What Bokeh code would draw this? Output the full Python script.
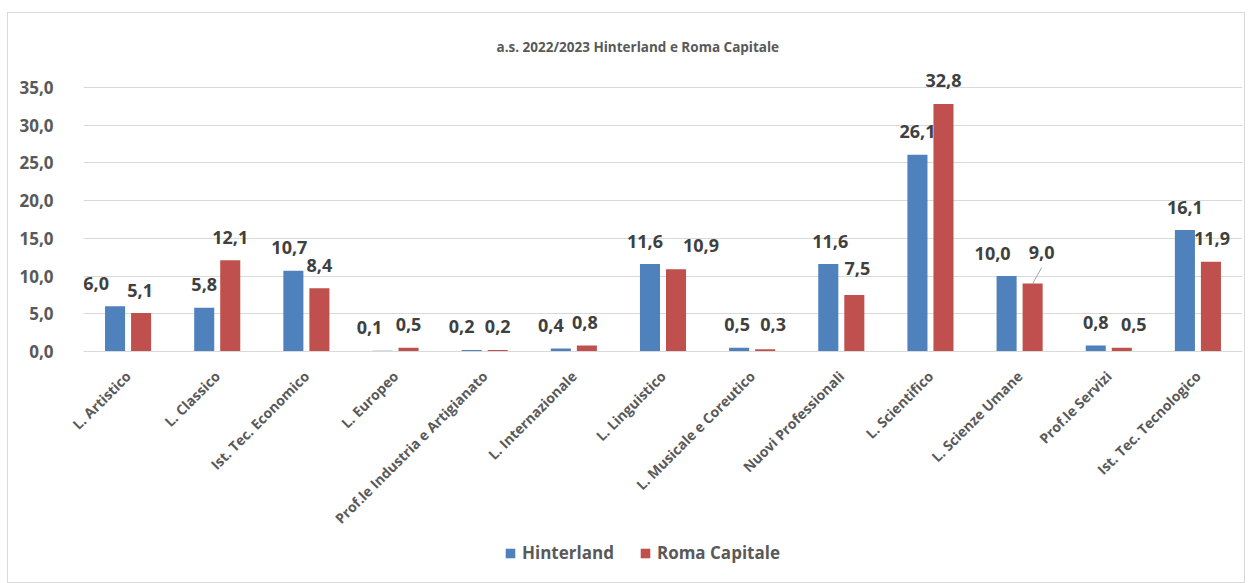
import math
from bokeh.plotting import figure
from bokeh.layouts import column
from bokeh.models import (ColumnDataSource, FactorRange, Range1d, FixedTicker,
                          Legend, LegendItem)
from bokeh.transform import dodge
from bokeh.core.properties import value
from bokeh.embed import file_html
from bokeh.resources import INLINE

# ---------------- data ----------------
categories = ["L. Artistico", "L. Classico", "Ist. Tec. Economico", "L. Europeo",
              "Prof.le Industria e Artigianato", "L. Internazionale", "L. Linguistico",
              "L. Musicale e Coreutico", "Nuovi Professionali", "L. Scientifico",
              "L. Scienze Umane", "Prof.le Servizi", "Ist. Tec. Tecnologico"]
hinterland = [6.0, 5.8, 10.7, 0.1, 0.2, 0.4, 11.6, 0.5, 11.6, 26.1, 10.0, 0.8, 16.1]
roma_capitale = [5.1, 12.1, 8.4, 0.5, 0.2, 0.8, 10.9, 0.3, 7.5, 32.8, 9.0, 0.5, 11.9]
series_names = ["Hinterland", "Roma Capitale"]
y_ticks = [0, 5, 10, 15, 20, 25, 30, 35]
title_text = "a.s. 2022/2023  Hinterland e Roma Capitale"

# label placement (pixels) - styling only
h_dx = [-19, 0, -4, -13, -10, -10, -5, -2, 2, 0, -14, 0, 0]
h_dy = [-23] * 13
r_dx = [-1, 0, 0, 0, 0, -2, 25, 8, 3, 0, 9, 12, 1]
r_dy = [-23, -23, -23, -23, -23, -23, -24, -25, -26, -24, -31, -23, -23]

def fmt(v):
    return f"{v:.1f}".replace(".", ",")

BLUE = "#4F81BD"
RED = "#C0504D"
FONT = "Open Sans"

src = ColumnDataSource(dict(
    cat=categories, h=hinterland, r=roma_capitale,
    hl=[fmt(v) for v in hinterland], rl=[fmt(v) for v in roma_capitale],
    hdx=h_dx, hdy=h_dy, rdx=r_dx, rdy=r_dy,
))

FRAME_H = 291
px_per_unit = 264 / 35.0
p = figure(
    x_range=FactorRange(*categories, range_padding=0),
    y_range=Range1d(0, FRAME_H / px_per_unit),
    width=1236, height=517,
    output_backend="svg", toolbar_location=None,
    min_border_left=75, min_border_right=2, min_border_top=47, min_border_bottom=179,
)
p.frame_width = 1159
p.frame_height = FRAME_H
p.outline_line_color = None
p.background_fill_color = "white"
p.border_fill_color = "white"

p.title.text = title_text
p.title.text_font = FONT
p.title.text_font_size = "13.5px"
p.title.text_font_style = "bold"
p.title.text_color = "#595959"
p.title.align = "left"
p.title.offset = 413

off = 0.146
bw = 0.225
p.vbar(x=dodge("cat", -off, range=p.x_range), top="h", width=bw, source=src,
       fill_color=BLUE, line_color=None)
p.vbar(x=dodge("cat", off, range=p.x_range), top="r", width=bw, source=src,
       fill_color=RED, line_color=None)

p.text(x=dodge("cat", -off, range=p.x_range), y="h", text="hl", source=src,
       x_offset="hdx", y_offset="hdy", text_align="center", text_baseline="middle",
       text_font=value(FONT), text_font_size="18px", text_font_style="bold",
       text_color="#404040")
p.text(x=dodge("cat", off, range=p.x_range), y="r", text="rl", source=src,
       x_offset="rdx", y_offset="rdy", text_align="center", text_baseline="middle",
       text_font=value(FONT), text_font_size="18px", text_font_style="bold",
       text_color="#404040")

# leader line for the "L. Scienze Umane" Roma label
i = categories.index("L. Scienze Umane")
lead = ColumnDataSource(dict(cat=[categories[i]], y0=[roma_capitale[i]],
                             y1=[roma_capitale[i] + 16 / px_per_unit]))
p.segment(x0=dodge("cat", off, range=p.x_range), y0="y0",
          x1=dodge("cat", off + 9 / 89.15, range=p.x_range), y1="y1",
          source=lead, line_color="#a6a6a6", line_width=1)

# axes
p.yaxis.ticker = FixedTicker(ticks=y_ticks)
p.yaxis.major_label_overrides = {t: fmt(t) for t in y_ticks}
p.yaxis.axis_line_color = None
p.yaxis.major_tick_line_color = None
p.yaxis.minor_tick_line_color = None
p.yaxis.major_label_standoff = 24
p.yaxis.major_label_text_font = FONT
p.yaxis.major_label_text_font_size = "17px"
p.yaxis.major_label_text_font_style = "bold"
p.yaxis.major_label_text_color = "#595959"

p.xaxis.axis_line_color = "#d9d9d9"
p.xaxis.axis_line_width = 1
p.xaxis.major_tick_line_color = None
p.xaxis.minor_tick_line_color = None
p.xaxis.major_label_orientation = math.pi / 4
p.xaxis.major_label_standoff = 16
p.xaxis.major_label_text_font = FONT
p.xaxis.major_label_text_font_size = "14px"
p.xaxis.major_label_text_font_style = "bold"
p.xaxis.major_label_text_color = "#595959"

p.xgrid.grid_line_color = None
p.ygrid.ticker = FixedTicker(ticks=y_ticks)
p.ygrid.grid_line_color = "#d9d9d9"
p.ygrid.grid_line_width = 1

# ---- legend strip (zero-height proxy glyphs, only the legend swatches show) ----
lg = figure(width=1236, height=45, x_range=Range1d(0, 1), y_range=Range1d(0, 1),
            output_backend="svg", toolbar_location=None, min_border=0)
lg.axis.visible = False
lg.grid.visible = False
lg.outline_line_color = None
lg.border_fill_color = "white"
proxy = ColumnDataSource(dict(x=[0.5], top=[0.0]))
sw_h = lg.vbar(x="x", top="top", width=0.0, source=proxy, fill_color=BLUE, line_color=None)
sw_r = lg.vbar(x="x", top="top", width=0.0, source=proxy, fill_color=RED, line_color=None)
legend = Legend(items=[LegendItem(label=series_names[0], renderers=[sw_h]),
                       LegendItem(label=series_names[1], renderers=[sw_r])],
                location=(421, 18), orientation="horizontal",
                glyph_width=12, glyph_height=12, label_standoff=6, spacing=25,
                padding=0, margin=0,
                border_line_color=None, background_fill_alpha=0,
                label_text_font=FONT, label_text_font_size="17px",
                label_text_font_style="bold", label_text_color="#595959")
lg.add_layout(legend, "center")

layout = column(p, lg, spacing=0)
layout.styles = {"border": "1px solid #d9d9d9", "margin-top": "12px",
                 "margin-left": "7px", "background": "white"}

open("out.html", "w").write(file_html(layout, INLINE))
